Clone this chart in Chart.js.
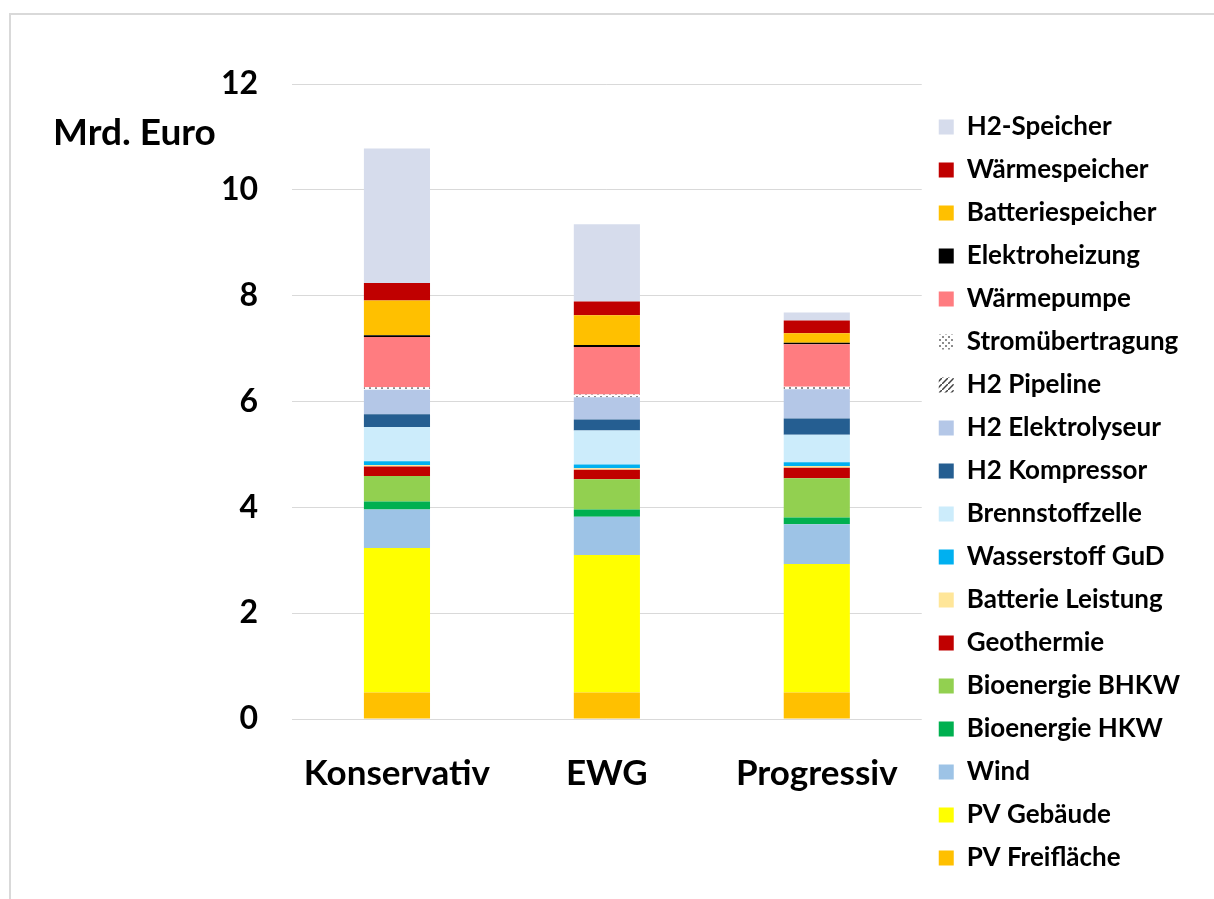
<!DOCTYPE html>
<html>
<head>
<meta charset="utf-8">
<script src="https://cdn.jsdelivr.net/npm/chart.js@4"></script>
<style>
    body { margin: 0; background: #fff; }
    #frame { position: absolute; left: 9px; top: 13px; width: 1220px; height: 900px; border-top: 2px solid #d9d9d9; border-left: 2px solid #d9d9d9; }
    #unit { position: absolute; left: 53px; top: 108px; font: bold 37px Lato, sans-serif; color: #000; }
    canvas { position: absolute; left: 0; top: 0; }
</style>
</head>
<body>
<div id="frame"></div>
<canvas id="costChart" width="1214" height="899"></canvas>
<div id="unit">Mrd. Euro</div>
<script>
const scenarios = ['Konservativ', 'EWG', 'Progressiv'];
const yTicks = [0, 2, 4, 6, 8, 10, 12];

// stacking order bottom -> top
const pvFreiflaeche = [0.50, 0.50, 0.50];
const pvGebaeude = [2.73, 2.60, 2.43];
const wind = [0.73, 0.72, 0.75];
const bioHKW = [0.15, 0.14, 0.13];
const bioBHKW = [0.48, 0.57, 0.74];
const geothermie = [0.18, 0.18, 0.20];
const batterieLeistung = [0.03, 0.03, 0.03];
const wasserstoffGuD = [0.07, 0.07, 0.07];
const brennstoffzelle = [0.65, 0.64, 0.52];
const h2Kompressor = [0.24, 0.21, 0.31];
const h2Elektrolyseur = [0.46, 0.42, 0.55];
const h2Pipeline = [0, 0, 0];
const stromuebertragung = [0.05, 0.05, 0.05];
const waermepumpe = [0.95, 0.90, 0.80];
const elektroheizung = [0.03, 0.04, 0.03];
const batteriespeicher = [0.66, 0.56, 0.18];
const waermespeicher = [0.33, 0.26, 0.24];
const h2Speicher = [2.54, 1.46, 0.15];

function makePattern(draw) {
    const c = document.createElement('canvas');
    c.width = 6;
    c.height = 6;
    const g = c.getContext('2d');
    g.fillStyle = '#fff';
    g.fillRect(0, 0, 6, 6);
    draw(g);
    return c.getContext('2d').createPattern(c, 'repeat');
}

const dots = makePattern(function(g) {
    g.fillStyle = '#8c8c8c';
    g.fillRect(0, 0, 2, 2);
    g.fillRect(3, 3, 2, 2);
});

const hatch = makePattern(function(g) {
    g.strokeStyle = '#404040';
    g.lineWidth = 1.5;
    g.beginPath();
    g.moveTo(0, 6);
    g.lineTo(6, 0);
    g.stroke();
});

function ds(label, data, color) {
    return { label: label, data: data, backgroundColor: color, borderWidth: 0, stack: 's' };
}

const datasets = [
    ds('PV Freifläche', pvFreiflaeche, '#FFC000'),
    ds('PV Gebäude', pvGebaeude, '#FFFF00'),
    ds('Wind', wind, '#9DC3E6'),
    ds('Bioenergie HKW', bioHKW, '#00B050'),
    ds('Bioenergie BHKW', bioBHKW, '#92D050'),
    ds('Geothermie', geothermie, '#C00000'),
    ds('Batterie Leistung', batterieLeistung, '#FFE699'),
    ds('Wasserstoff GuD', wasserstoffGuD, '#00B0F0'),
    ds('Brennstoffzelle', brennstoffzelle, '#CCECFB'),
    ds('H2 Kompressor', h2Kompressor, '#255E91'),
    ds('H2 Elektrolyseur', h2Elektrolyseur, '#B4C7E7'),
    ds('H2 Pipeline', h2Pipeline, hatch),
    ds('Stromübertragung', stromuebertragung, dots),
    ds('Wärmepumpe', waermepumpe, '#FF7C80'),
    ds('Elektroheizung', elektroheizung, '#000000'),
    ds('Batteriespeicher', batteriespeicher, '#FFC000'),
    ds('Wärmespeicher', waermespeicher, '#C00000'),
    ds('H2-Speicher', h2Speicher, '#D6DCEC')
];

const legendShift = {
    id: 'legendShift',
    afterLayout: function(chart) {
        chart.legend.top += 13;
        chart.legend.bottom += 13;
    }
};

const ctx = document.getElementById('costChart').getContext('2d');
const costChart = new Chart(ctx, {
    type: 'bar',
    data: { labels: scenarios, datasets: datasets },
    plugins: [legendShift],
    options: {
        responsive: false,
        animation: false,
        layout: { padding: { top: 84, left: 0, right: 24, bottom: 0 } },
        datasets: { bar: { categoryPercentage: 1, barPercentage: 0.315 } },
        plugins: {
            tooltip: { enabled: false },
            legend: {
                position: 'right',
                align: 'start',
                reverse: true,
                labels: {
                    boxWidth: 15,
                    boxHeight: 15,
                    padding: 17,
                    color: '#000',
                    font: { family: 'Lato', weight: 'bold', size: 26 }
                }
            }
        },
        scales: {
            x: {
                stacked: true,
                grid: { display: false, drawTicks: false },
                border: { display: false },
                ticks: { color: '#000', padding: 34, font: { family: 'Lato', weight: 'bold', size: 35 } },
                afterFit: function(axis) { axis.height = 180; }
            },
            y: {
                stacked: true,
                min: 0,
                max: 12,
                afterBuildTicks: function(axis) { axis.ticks = yTicks.map(v => ({ value: v })); },
                grid: { color: '#d9d9d9', lineWidth: 1, drawTicks: false },
                border: { display: false },
                ticks: { color: '#000', padding: 34, font: { family: 'Lato', weight: 'bold', size: 32 } },
                afterFit: function(axis) { axis.width = 292; }
            }
        }
    }
});
</script>
</body>
</html>
